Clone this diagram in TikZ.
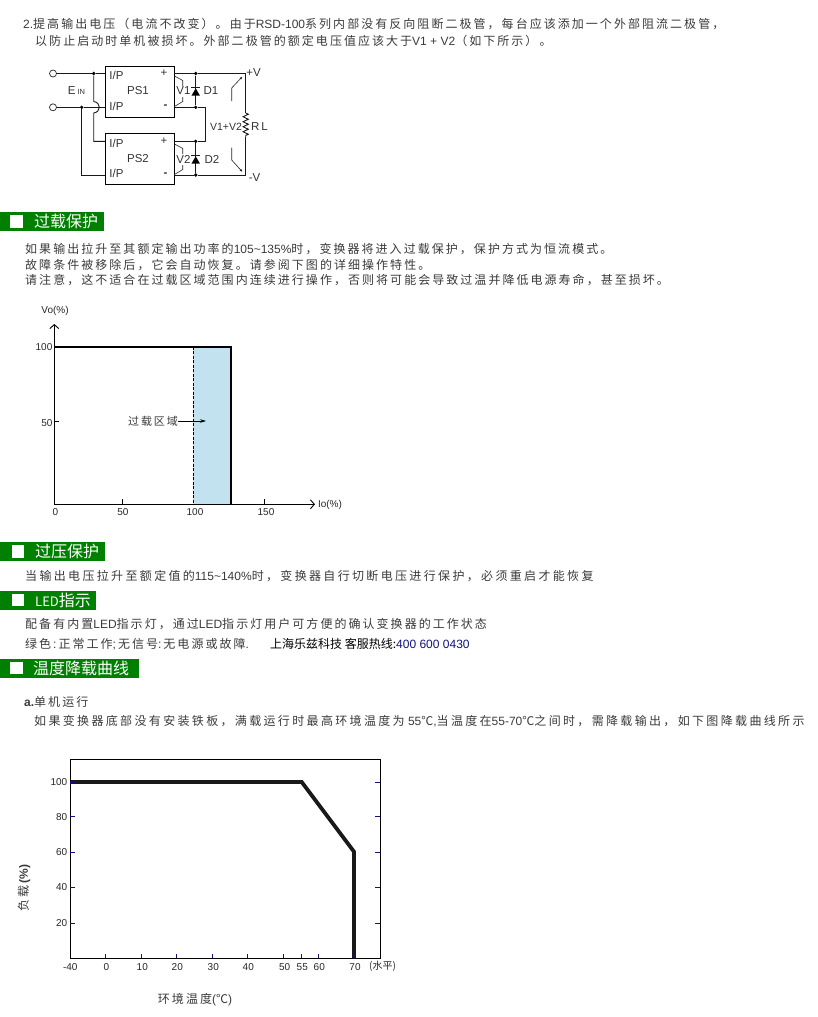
\documentclass[tikz,border=0pt]{standalone}
\usepackage{fontspec}
\usepackage{tikz}
\usetikzlibrary{arrows.meta,positioning,calc,shapes.geometric,decorations.pathmorphing}
\setmainfont{Liberation Sans}
\newfontfamily\cjkwide[LetterSpace=17]{Noto Sans CJK SC}
\newfontfamily\cjkwider[LetterSpace=19.5]{Noto Sans CJK SC}
\newfontfamily\cjktight{Noto Sans CJK SC}
\newcommand{\zh}[1]{{\cjkwide #1}}
\newcommand{\zhw}[1]{{\cjkwider #1}}
\newcommand{\px}[1]{\fontsize{#1}{#1}\selectfont}
\definecolor{darkgreen}{HTML}{008000}
\definecolor{bodygray}{HTML}{3A3A3A}
\definecolor{overblue}{HTML}{C2E2F0}
\definecolor{tickblue}{HTML}{101080}
\tikzset{
  x=1pt,y=-1pt,
  bodyline/.style={anchor=base west,inner sep=0pt,text=bodygray,font=\px{12}},
  header/.style={anchor=north west,inner sep=0pt,fill=darkgreen,minimum height=19pt},
  headertext/.style={anchor=west,inner sep=0pt,text=white,font=\px{16}\cjktight},
  whitesq/.style={fill=white,inner sep=0pt,minimum size=12.5pt},
  wire/.style={draw=black!90,line width=0.9pt},
  thinwire/.style={draw=black!85,line width=0.6pt},
  dot/.style={circle,fill=black,inner sep=0pt,minimum size=3.6pt},
  terminal/.style={circle,draw=black!85,fill=white,line width=0.7pt,inner sep=0pt,minimum size=7pt},
  psbox/.style={draw=black,line width=0.9pt,anchor=north west,inner sep=0pt,minimum width=68.4pt,minimum height=51pt},
  circlabel/.style={inner sep=0pt,text=black!80,font=\px{11.5}},
  diode/.style={regular polygon,regular polygon sides=3,fill=black,inner sep=0pt,minimum size=9.8pt},
  ticklabel/.style={inner sep=0pt,text=black!85,font=\px{10}},
  axisline/.style={draw=black,line width=0.9pt},
  curveline/.style={draw=black!90,line width=3.8pt,line join=miter},
  bluetick/.style={draw=tickblue,line width=1pt}
}
\begin{document}
\begin{tikzpicture}
  \useasboundingbox (0,0) rectangle (818,1017);

  % Top text lines
  \node[bodyline] (line1) at (23,28) {2.\zh{提高输出电压（电流不改变）。由于}RSD-100\zh{系列内部没有反向阻断二极管，每台应该添加一个外部阻流二极管，}};
  \node[bodyline] (line2) at (35,45) {\zh{以防止启动时单机被损坏。外部二极管的额定电压值应该大于}V1 + V2\zh{（如下所示）。}};

  % Power supply boxes
  \node[psbox] (ps1) at (105.3,65.7) {};
  \node[psbox] (ps2) at (105.3,133.3) {};
  \node[circlabel] (ps1name) at (138,91) {PS1};
  \node[circlabel] (ps2name) at (138,159) {PS2};
  \node[circlabel] (ps1a) at (116.5,75.5) {I/P};
  \node[circlabel] (ps1b) at (116.5,106) {I/P};
  \node[circlabel] (ps2a) at (116.5,143) {I/P};
  \node[circlabel] (ps2b) at (116.5,173.5) {I/P};
  \node[circlabel] (ps1plus) at (164,73) {+};
  \node[circlabel] (ps2plus) at (164,141) {+};
  \node[circlabel] (ps1minus) at (165.5,106.5) {\textbf{-}};
  \node[circlabel] (ps2minus) at (165.5,174.5) {\textbf{-}};

  % Terminals and junctions
  \node[terminal] (inTop) at (53,73.5) {};
  \node[terminal] (inBot) at (53,107.3) {};
  \node[dot] (jTop) at (93.7,73.5) {};
  \node[dot] (jBot) at (81.7,107.3) {};
  \node[dot] (d1top) at (195.7,73.5) {};
  \node[dot] (d1bot) at (195.7,107.3) {};
  \node[dot] (d2top) at (195.7,141.3) {};
  \node[dot] (d2bot) at (195.7,175) {};

  % Wire corners
  \coordinate (ps1inA) at (105.3,73.5);
  \coordinate (ps1inB) at (105.3,107.3);
  \coordinate (ps2inA) at (105.3,141.3);
  \coordinate (ps2inB) at (105.3,175);
  \coordinate (ps1outA) at (173.7,73.5);
  \coordinate (ps1outB) at (173.7,107.3);
  \coordinate (ps2outA) at (173.7,141.3);
  \coordinate (ps2outB) at (173.7,175);
  \coordinate (jumpA) at (93.7,101.5);
  \coordinate (jumpB) at (93.7,113);
  \coordinate (cornerA) at (93.7,141.3);
  \coordinate (cornerB) at (81.7,175);
  \coordinate (midA) at (205.3,107.3);
  \coordinate (midB) at (205.3,141.3);
  \coordinate (railTop) at (245.7,73.5);
  \coordinate (railBot) at (245.7,175);
  \coordinate (loadTop) at (245.7,113);
  \coordinate (loadBot) at (245.7,137);

  % Input wires
  \draw[wire] (inTop) -- (jTop) -- (ps1inA);
  \draw[wire] (inBot) -- (jBot) -- (ps1inB);
  \draw[wire] (jTop) -- (jumpA) .. controls +(7.5,1) and +(7.5,-1) .. (jumpB) -- (cornerA) -- (ps2inA);
  \draw[wire] (jBot) -- (cornerB) -- (ps2inB);

  % Output wires
  \draw[wire] (ps1outA) -- (d1top) -- (railTop) -- (loadTop);
  \draw[wire,decorate,decoration={zigzag,segment length=5pt,amplitude=2.6pt}] (loadTop) -- (loadBot);
  \draw[wire] (loadBot) -- (railBot) -- (d2bot) -- (ps2outB);
  \draw[wire] (ps1outB) -- (d1bot) -- (midA) -- (midB) -- (d2top) -- (ps2outA);
  \draw[wire] (d1top) -- (d1bot);
  \draw[wire] (d2top) -- (d2bot);

  % Diodes
  \node[diode] (D1) at (195.7,93.2) {};
  \node[diode] (D2) at (195.7,161.2) {};
  \draw[wire,line width=1pt] ([xshift=-4.5pt]D1.corner 1) -- ([xshift=4.5pt]D1.corner 1);
  \draw[wire,line width=1pt] ([xshift=-4.5pt]D2.corner 1) -- ([xshift=4.5pt]D2.corner 1);

  % Voltage markers
  \draw[thinwire] (174.5,76) -- (182.7,80.5) -- (182.7,86);
  \draw[thinwire] (174.5,106.5) -- (182.7,101.5) -- (182.7,97);
  \draw[thinwire] (174.5,144) -- (182.7,148.5) -- (182.7,154);
  \draw[thinwire] (174.5,174.5) -- (182.7,169.5) -- (182.7,165);
  \draw[thinwire,-{Latex[length=3pt,width=2.5pt]}] (231.7,101) -- (231.7,88) -- (242.5,76.5);
  \draw[thinwire,-{Latex[length=3pt,width=2.5pt]}] (231.7,147.5) -- (231.7,160) -- (242.5,172);

  % Circuit labels
  \node[circlabel] (ein) at (76.5,91) {E\,{\px{7.5}IN}};
  \node[circlabel] (v1) at (183.5,91) {V1};
  \node[circlabel] (v2) at (183.5,159) {V2};
  \node[circlabel] (d1) at (211,91) {D1};
  \node[circlabel] (d2) at (212,159) {D2};
  \node[circlabel] (plusv) at (253.5,72.5) {+V};
  \node[circlabel] (minusv) at (254.5,177.5) {-V};
  \node[circlabel,font=\px{10.5}] (vsum) at (226,126.5) {V1+V2};
  \node[circlabel] (rl) at (259.5,126.5) {R\,L};

  % Section: overload
  \node[header,minimum width=104pt] (hOver) at (0,212) {};
  \node[whitesq] (sqOver) at (16.5,221.5) {};
  \node[headertext] (tOver) at (34,221.5) {过载保护};
  \node[bodyline] (over1) at (25,253) {\zh{如果输出拉升至其额定输出功率的}105\textasciitilde135\%\zh{时，变换器将进入过载保护，保护方式为恒流模式。}};
  \node[bodyline] (over2) at (25,269) {\zh{故障条件被移除后，它会自动恢复。请参阅下图的详细操作特性。}};
  \node[bodyline] (over3) at (25,284) {\zh{请注意，这不适合在过载区域范围内连续进行操作，否则将可能会导致过温并降低电源寿命，甚至损坏。}};

  % Overload chart
  \coordinate (origin) at (54.3,504.3);
  \coordinate (yEnd) at (54.3,324);
  \coordinate (xEnd) at (315,504.3);
  \coordinate (topLeft) at (54.3,346.7);
  \coordinate (topMid) at (193.3,346.7);
  \coordinate (topRight) at (230.7,346.7);
  \coordinate (botMid) at (193.3,504.3);
  \coordinate (botRight) at (230.7,504.3);
  \fill[overblue] (topMid) rectangle (botRight);
  \draw[axisline,-{Straight Barb[length=4pt,width=9pt]}] (origin) -- (yEnd);
  \draw[axisline,-{Straight Barb[length=4pt,width=9pt]}] (origin) -- (xEnd);
  \draw[draw=black,line width=0.8pt,dash pattern=on 3pt off 1.5pt] (topMid) -- (botMid);
  \draw[draw=black,line width=2pt] (topLeft) -- (topRight) -- (botRight);
  \draw[axisline] (54.3,421) -- ++(5,0);
  \draw[axisline] (122.3,504.3) -- ++(0,-5);
  \draw[axisline] (264,504.3) -- ++(0,-5);
  \node[ticklabel] (vo) at (55,311) {Vo(\%)};
  \node[ticklabel] (io) at (330,504.5) {Io(\%)};
  \node[ticklabel] (o100) at (44,347) {100};
  \node[ticklabel] (o50) at (47,423) {50};
  \node[ticklabel] (ox0) at (55.5,512) {0};
  \node[ticklabel] (ox50) at (123,512) {50};
  \node[ticklabel] (ox100) at (195,512) {100};
  \node[ticklabel] (ox150) at (266,512) {150};
  \node[bodyline,anchor=center,font=\px{11}] (zone) at (153,421) {\zh{过载区域}};
  \coordinate (zoneTip) at (206,421);
  \draw[line width=0.6pt,-{Stealth[length=6pt,width=3.5pt]}] (zone.east) -- (zoneTip);

  % Section: overvoltage
  \node[header,minimum width=105pt] (hVolt) at (0,542) {};
  \node[whitesq] (sqVolt) at (18,551.5) {};
  \node[headertext] (tVolt) at (35,551.5) {过压保护};
  \node[bodyline] (volt1) at (25,580) {\zhw{当输出电压拉升至额定值的}115\textasciitilde140\%\zhw{时，变换器自行切断电压进行保护，必须重启才能恢复}};

  % Section: LED
  \node[header,minimum width=96pt] (hLed) at (0,590.5) {};
  \node[whitesq] (sqLed) at (18,600) {};
  \node[headertext] (tLed) at (35,600) {{\px{13}LED}指示};
  \node[bodyline] (led1) at (25,628) {\zh{配备有内置}LED\zh{指示灯，通过}LED\zh{指示灯用户可方便的确认变换器的工作状态}};
  \node[bodyline] (led2) at (25,648) {\zh{绿色}\,:\,\zh{正常工作};\,\zh{无信号}:\,\zh{无电源或故障}.};
  \node[bodyline,text=black] (hotline) at (270,648) {{\cjktight 上海乐兹科技 客服热线:}\textcolor{tickblue}{400 600 0430}};

  % Section: derating
  \node[header,minimum width=139pt] (hTemp) at (0,658.5) {};
  \node[whitesq] (sqTemp) at (16.5,668) {};
  \node[headertext] (tTemp) at (33,668) {温度降载曲线};
  \node[bodyline] (tempa) at (24,706) {\textbf{a.}\zh{单机运行}};
  \node[bodyline] (temp1) at (34,725) {\zhw{如果变换器底部没有安装铁板，满载运行时最高环境温度为} 55{\cjktight ℃},\zhw{当温度在}55-70{\cjktight ℃}\zhw{之间时，需降载输出，如下图降载曲线所示}};

  % Derating chart
  \node[draw=black,line width=0.9pt,anchor=north west,inner sep=0pt,minimum width=310pt,minimum height=199pt] (plot) at (70.3,759.3) {};
  \coordinate (c1) at (70.3,782);
  \coordinate (c2) at (301.7,782);
  \coordinate (c3) at (354,851.7);
  \coordinate (c4) at (354,958.3);
  \draw[curveline] (c1) -- (c2) -- (c3) -- (c4);
  \foreach \ypos/\ylab in {782/100,816.7/80,852.3/60,887.3/40,923.3/20} {
    \draw[bluetick] (70.3,\ypos) -- ++(5,0);
    \draw[bluetick] (380.3,\ypos) -- ++(-5,0);
    \node[ticklabel,anchor=east] at (67.5,\ypos) {\ylab};
  }
  \foreach \xpos/\xlab in {105.3/0,141.3/10,176.3/20,212.3/30,247.3/40,283.7/50,301.3/55,318.3/60,354/70} {
    \draw[bluetick] (\xpos,958.3) -- ++(0,-4.5);
    \node[ticklabel] at (\xpos+1,966.7) {\xlab};
  }
  \node[ticklabel] (xm40) at (70.3,966.7) {-40};
  \node[ticklabel,font=\px{10}\cjktight] (unit) at (382.5,966.7) {(水平)};
  \node[ticklabel,rotate=90,text=bodygray,font=\px{12}] (ylabel) at (24,888) {\zh{负载}\textbf{(\%)}};
  \node[ticklabel,text=bodygray,font=\px{12}] (xlabel) at (195,1000) {\zh{环境温度}({\cjktight ℃})};
\end{tikzpicture}
\end{document}
